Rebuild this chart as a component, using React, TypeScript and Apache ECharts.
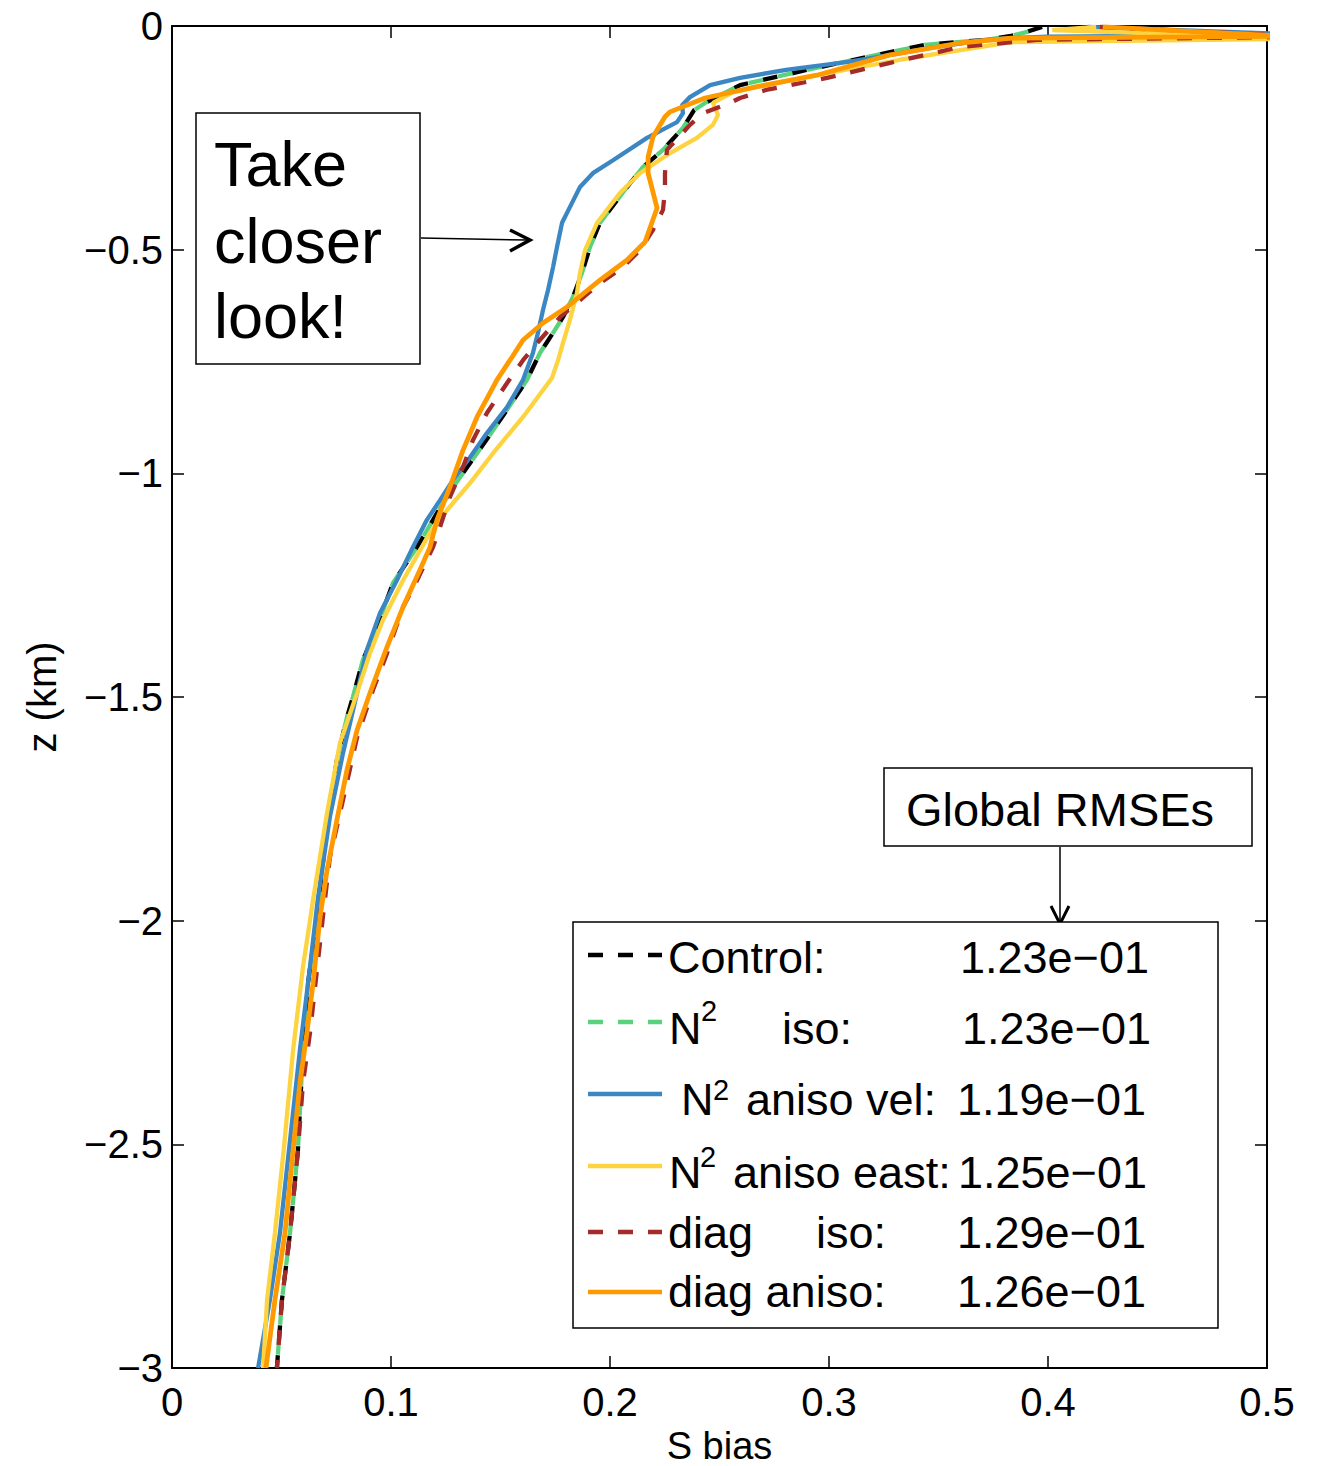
import React, { useEffect, useRef } from 'react';
import * as echarts from 'echarts';

const FONT = '"Liberation Sans", Arial, Helvetica, sans-serif';

// ---- data: [S bias, z (km)] ----
const controlData: number[][] = [
  [0.3973, -0.002], [0.3904, -0.013], [0.3831, -0.022], [0.3717, -0.031], [0.3438, -0.042],
  [0.3178, -0.069], [0.29, -0.098], [0.2594, -0.132], [0.2434, -0.172], [0.2384, -0.188],
  [0.2333, -0.228], [0.2242, -0.277], [0.2151, -0.315], [0.2078, -0.36], [0.1954, -0.44],
  [0.1909, -0.494], [0.1872, -0.552], [0.1831, -0.606], [0.1785, -0.651], [0.174, -0.686],
  [0.168, -0.731], [0.1621, -0.791], [0.1498, -0.881], [0.1393, -0.955], [0.1283, -1.031],
  [0.121, -1.089], [0.1119, -1.165], [0.1009, -1.245], [0.0936, -1.344], [0.0872, -1.417],
  [0.0826, -1.5], [0.0799, -1.545], [0.0753, -1.641], [0.0712, -1.768], [0.0662, -1.992],
  [0.0621, -2.14], [0.0594, -2.327], [0.0575, -2.513], [0.0539, -2.698], [0.0502, -2.848],
  [0.0479, -3.0],
];
const n2IsoData: number[][] = [
  [0.3977, -0.004], [0.3906, -0.013], [0.3831, -0.022], [0.3717, -0.031], [0.3438, -0.042],
  [0.3178, -0.069], [0.29, -0.098], [0.2594, -0.132], [0.2434, -0.172], [0.2384, -0.188],
  [0.2333, -0.228], [0.2242, -0.277], [0.2151, -0.315], [0.2078, -0.36], [0.1954, -0.44],
  [0.1909, -0.494], [0.1872, -0.552], [0.1831, -0.606], [0.1785, -0.651], [0.174, -0.686],
  [0.168, -0.731], [0.1621, -0.791], [0.1498, -0.881], [0.1393, -0.955], [0.1283, -1.031],
  [0.121, -1.089], [0.1119, -1.165], [0.1009, -1.245], [0.0936, -1.344], [0.0872, -1.417],
  [0.0826, -1.5], [0.0799, -1.545], [0.0753, -1.641], [0.0712, -1.768], [0.0662, -1.992],
  [0.0621, -2.14], [0.0594, -2.327], [0.0575, -2.513], [0.0539, -2.698], [0.0502, -2.848],
  [0.0479, -3.0],
];
const n2AnisoVelData: number[][] = [
  [0.418, -0.002], [0.52, -0.02], [0.3995, -0.024], [0.3831, -0.027], [0.3717, -0.031],
  [0.3484, -0.047], [0.3274, -0.065], [0.3087, -0.08], [0.2804, -0.098], [0.2594, -0.116],
  [0.2457, -0.132], [0.2365, -0.159], [0.2329, -0.177], [0.2333, -0.195], [0.2306, -0.215],
  [0.2169, -0.25], [0.2014, -0.3], [0.1922, -0.329], [0.1863, -0.36], [0.1826, -0.396],
  [0.1781, -0.44], [0.1758, -0.494], [0.174, -0.539], [0.1717, -0.59], [0.1694, -0.635],
  [0.1671, -0.686], [0.1648, -0.731], [0.1603, -0.791], [0.153, -0.852], [0.1438, -0.91],
  [0.1361, -0.964], [0.1283, -1.015], [0.1224, -1.06], [0.1164, -1.104], [0.11, -1.165],
  [0.1027, -1.239], [0.095, -1.312], [0.089, -1.395], [0.0845, -1.491], [0.0781, -1.625],
  [0.0721, -1.768], [0.0667, -1.947], [0.063, -2.104], [0.0584, -2.289], [0.0534, -2.513],
  [0.0493, -2.698], [0.0447, -2.848], [0.0393, -3.0],
];
const n2AnisoEastData: number[][] = [
  [0.422, -0.002], [0.402, -0.009], [0.52, -0.028], [0.3831, -0.036], [0.332, -0.076],
  [0.29, -0.114], [0.2667, -0.136], [0.2562, -0.148], [0.247, -0.172], [0.2493, -0.199],
  [0.247, -0.221], [0.2397, -0.25], [0.2274, -0.284], [0.2137, -0.329], [0.2046, -0.373],
  [0.1941, -0.44], [0.1886, -0.501], [0.1863, -0.552], [0.1849, -0.597], [0.1817, -0.657],
  [0.1785, -0.709], [0.1763, -0.747], [0.1735, -0.787], [0.1603, -0.874], [0.1466, -0.955],
  [0.1361, -1.022], [0.1256, -1.082], [0.1178, -1.133], [0.1055, -1.239], [0.0963, -1.328],
  [0.0904, -1.402], [0.0845, -1.491], [0.0767, -1.603], [0.0708, -1.759], [0.0644, -1.954],
  [0.0598, -2.104], [0.0553, -2.289], [0.051, -2.513], [0.047, -2.698], [0.0434, -2.848],
  [0.0416, -3.0],
];
const diagIsoData: number[][] = [
  [0.4237, -0.002], [0.52, -0.024], [0.395, -0.031], [0.3598, -0.047], [0.3274, -0.083],
  [0.2991, -0.116], [0.2712, -0.143], [0.2594, -0.161], [0.2548, -0.172], [0.2425, -0.195],
  [0.2365, -0.221], [0.226, -0.277], [0.2251, -0.329], [0.2251, -0.367], [0.2242, -0.411],
  [0.2196, -0.456], [0.2137, -0.501], [0.2059, -0.539], [0.1954, -0.575], [0.1863, -0.613],
  [0.1772, -0.651], [0.1667, -0.709], [0.1603, -0.747], [0.153, -0.798], [0.1438, -0.865],
  [0.1374, -0.926], [0.1329, -0.986], [0.1269, -1.053], [0.1224, -1.12], [0.1192, -1.165],
  [0.1119, -1.239], [0.1055, -1.299], [0.0982, -1.402], [0.0918, -1.484], [0.0845, -1.59],
  [0.0781, -1.73], [0.0721, -1.858], [0.0689, -1.992], [0.0662, -2.11], [0.063, -2.251],
  [0.0598, -2.363], [0.0575, -2.513], [0.0539, -2.698], [0.0502, -2.848], [0.0479, -3.0],
];
const diagAnisoData: number[][] = [
  [0.425, -0.002], [0.51, -0.023], [0.3831, -0.027], [0.3598, -0.038], [0.3274, -0.065],
  [0.2945, -0.11], [0.2667, -0.136], [0.2434, -0.161], [0.2274, -0.192], [0.2251, -0.203],
  [0.2196, -0.248], [0.2174, -0.293], [0.2174, -0.329], [0.2215, -0.407], [0.216, -0.483],
  [0.2078, -0.523], [0.1954, -0.568], [0.1804, -0.628], [0.1694, -0.664], [0.1603, -0.702],
  [0.1553, -0.74], [0.1484, -0.791], [0.1393, -0.874], [0.1329, -0.948], [0.1269, -1.031],
  [0.121, -1.104], [0.1178, -1.165], [0.1132, -1.216], [0.1055, -1.299], [0.0982, -1.388],
  [0.0904, -1.491], [0.0845, -1.574], [0.0799, -1.663], [0.0753, -1.775], [0.0708, -1.887],
  [0.0676, -1.992], [0.0644, -2.14], [0.0616, -2.251], [0.0584, -2.363], [0.0553, -2.513],
  [0.0516, -2.698], [0.047, -2.848], [0.0429, -3.0],
];

const seriesNames = ['Control', 'N2 iso', 'N2 aniso vel', 'N2 aniso east', 'diag iso', 'diag aniso'];
const rmseValues = ['1.23e\u221201', '1.23e\u221201', '1.19e\u221201', '1.25e\u221201', '1.29e\u221201', '1.26e\u221201'];
const seriesColors = ['#000000', '#5ad27c', '#3b87c3', '#fdd33f', '#a52a2a', '#ff9900'];
const seriesDashed = [true, true, false, false, true, false];
const allData = [controlData, n2IsoData, n2AnisoVelData, n2AnisoEastData, diagIsoData, diagAnisoData];

const xMin = 0, xMax = 0.5, xStep = 0.1;
const yMin = -3, yMax = 0, yStep = 0.5;

const fmtX = (v: number) => (Math.abs(v) < 1e-9 ? '0' : v.toFixed(1));
const fmtY = (v: number) => {
  if (Math.abs(v) < 1e-9) return '0';
  const a = Math.abs(v);
  const s = Number.isInteger(a) ? String(a) : a.toFixed(1);
  return (v < 0 ? '\u2212' : '') + s;
};

function txt(text: string, x: number, y: number, size: number, align = 'left') {
  return {
    type: 'text', x, y, z: 110, silent: true,
    style: {
      text, fontSize: size, fontFamily: FONT, fill: '#000',
      textAlign: align, textVerticalAlign: 'middle', align, verticalAlign: 'middle',
    },
  };
}

const mkLine = () => ({ show: true, onZero: false, lineStyle: { color: '#000', width: 2 } });
const mkTick = () => ({ show: true, inside: true, length: 12, lineStyle: { color: '#000', width: 1.5 } });

export default function App() {
  const ref = useRef<HTMLDivElement>(null);
  useEffect(() => {
    if (!ref.current) return;
    document.body.style.margin = '0';
    const chart = echarts.init(ref.current, undefined, { renderer: 'svg' });

    const series = allData.map((d, i) => ({
      name: seriesNames[i],
      type: 'line',
      data: d,
      showSymbol: false,
      symbol: 'none',
      clip: true,
      silent: true,
      xAxisIndex: 0,
      yAxisIndex: 0,
      lineStyle: {
        color: seriesColors[i],
        width: i === 5 ? 4.8 : 4.3,
        type: seriesDashed[i] ? [15, 15] : 'solid',
        dashOffset: i === 1 ? 15 : 0,
      },
    }));

    // legend rows (drawn manually)
    const rowLineY = [955, 1022, 1094, 1166, 1232, 1292];
    const rowTextY = [957, 1028, 1099, 1172, 1232, 1291];
    const supY = [0, 1011, 1090, 1157, 0, 0];
    const valueX = [960, 962, 957, 958, 957, 957];
    const rowPieces: { t: string; x: number; sup?: boolean }[][] = [
      [{ t: 'Control:', x: 668 }],
      [{ t: 'N', x: 669 }, { t: '2', x: 701, sup: true }, { t: 'iso:', x: 782 }],
      [{ t: 'N', x: 681 }, { t: '2', x: 713, sup: true }, { t: 'aniso vel:', x: 746 }],
      [{ t: 'N', x: 669 }, { t: '2', x: 700, sup: true }, { t: 'aniso east:', x: 733 }],
      [{ t: 'diag', x: 668 }, { t: 'iso:', x: 816 }],
      [{ t: 'diag aniso:', x: 668 }],
    ];

    const graphics: any[] = [];
    graphics.push({
      type: 'rect', z: 100, silent: true,
      shape: { x: 196, y: 113, width: 224, height: 251 },
      style: { fill: '#fff', stroke: '#000', lineWidth: 1.5 },
    });
    graphics.push(txt('Take', 214, 164, 63));
    graphics.push(txt('closer', 214, 241, 63));
    graphics.push(txt('look!', 214, 316, 63));
    graphics.push({
      type: 'line', z: 100, silent: true,
      shape: { x1: 421, y1: 238, x2: 528, y2: 240 },
      style: { stroke: '#000', lineWidth: 1.5 },
    });
    graphics.push({
      type: 'polyline', z: 100, silent: true,
      shape: { points: [[510, 230], [530, 240], [510, 251]] },
      style: { stroke: '#000', lineWidth: 3.5, fill: null },
    });
    graphics.push({
      type: 'rect', z: 100, silent: true,
      shape: { x: 884, y: 768, width: 368, height: 78 },
      style: { fill: '#fff', stroke: '#000', lineWidth: 1.5 },
    });
    graphics.push(txt('Global RMSEs', 1060, 809, 47, 'center'));
    graphics.push({
      type: 'line', z: 100, silent: true,
      shape: { x1: 1060, y1: 847, x2: 1060, y2: 924 },
      style: { stroke: '#000', lineWidth: 1.5 },
    });
    graphics.push({
      type: 'polyline', z: 100, silent: true,
      shape: { points: [[1051, 906], [1060, 924], [1069, 906]] },
      style: { stroke: '#000', lineWidth: 3, fill: null },
    });
    graphics.push({
      type: 'rect', z: 100, silent: true,
      shape: { x: 573, y: 922, width: 645, height: 406 },
      style: { fill: '#fff', stroke: '#000', lineWidth: 1.5 },
    });
    for (let i = 0; i < 6; i++) {
      graphics.push({
        type: 'line', z: 105, silent: true,
        shape: { x1: 588, y1: rowLineY[i], x2: 662, y2: rowLineY[i] },
        style: {
          stroke: seriesColors[i], lineWidth: 4.5,
          lineDash: seriesDashed[i] ? [15, 15] : null,
        },
      });
      rowPieces[i].forEach((p) => {
        if (p.sup) graphics.push(txt(p.t, p.x, supY[i], 29));
        else graphics.push(txt(p.t, p.x, rowTextY[i], 45));
      });
      graphics.push(txt(rmseValues[i], valueX[i], rowTextY[i], 45));
    }

    chart.setOption({
      animation: false,
      backgroundColor: '#ffffff',
      textStyle: { fontFamily: FONT },
      grid: {
        left: 172, top: 26, width: 1095, height: 1342,
        containLabel: false, outerBoundsMode: 'none',
      },
      xAxis: [
        {
          type: 'value', position: 'bottom', min: xMin, max: xMax, interval: xStep,
          name: 'S bias', nameLocation: 'middle', nameGap: 53,
          nameTextStyle: { fontSize: 38, color: '#000', fontFamily: FONT },
          axisLine: mkLine(), axisTick: mkTick(), splitLine: { show: false },
          axisLabel: {
            show: true, inside: false, margin: 14, fontSize: 40, color: '#000', fontFamily: FONT,
            formatter: fmtX, showMinLabel: true, showMaxLabel: true,
          },
        },
        {
          type: 'value', position: 'top', min: xMin, max: xMax, interval: xStep,
          axisLine: mkLine(), axisTick: mkTick(), splitLine: { show: false }, axisLabel: { show: false },
        },
      ],
      yAxis: [
        {
          type: 'value', position: 'left', min: yMin, max: yMax, interval: yStep,
          name: 'z (km)', nameLocation: 'middle', nameGap: 110,
          nameTextStyle: { fontSize: 40, color: '#000', fontFamily: FONT },
          axisLine: mkLine(), axisTick: mkTick(), splitLine: { show: false },
          axisLabel: {
            show: true, inside: false, margin: 9, fontSize: 40, color: '#000', fontFamily: FONT,
            formatter: fmtY, showMinLabel: true, showMaxLabel: true,
          },
        },
        {
          type: 'value', position: 'right', min: yMin, max: yMax, interval: yStep,
          axisLine: mkLine(), axisTick: mkTick(), splitLine: { show: false }, axisLabel: { show: false },
        },
      ],
      series,
      graphic: graphics,
    });
    return () => chart.dispose();
  }, []);
  return (
    <div
      ref={ref}
      style={{ position: 'absolute', left: 0, top: 0, width: 1333, height: 1466, background: '#fff' }}
    />
  );
}
